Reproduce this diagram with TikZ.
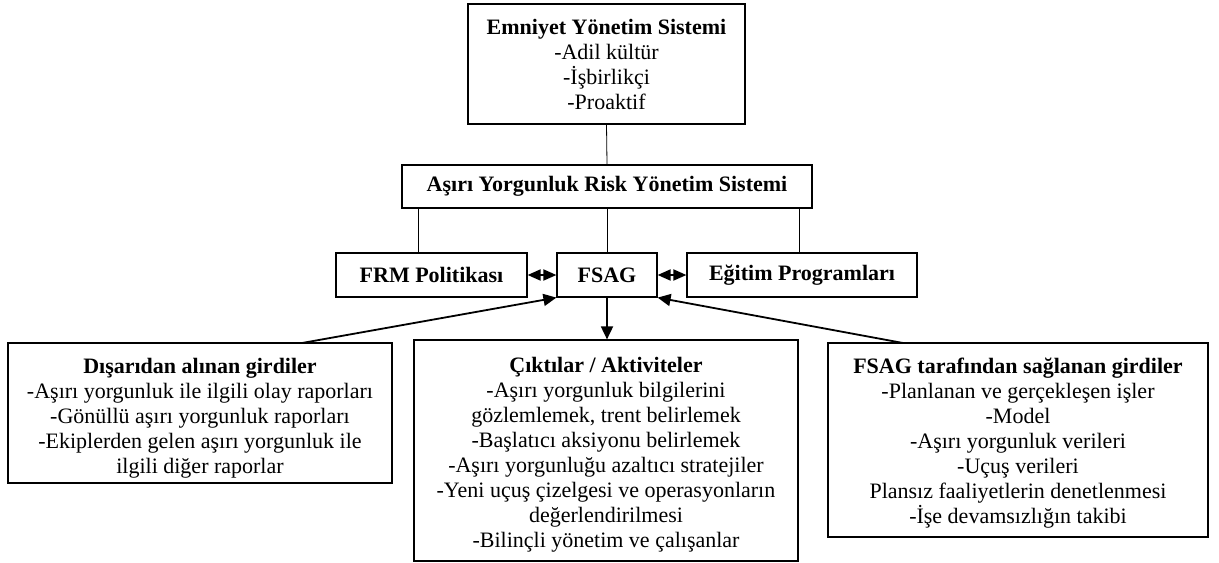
\documentclass[tikz,border=0pt]{standalone}
\usepackage{fontspec}
\setmainfont{Liberation Serif}
\usetikzlibrary{arrows.meta}
\begin{document}
\begin{tikzpicture}[x=0.5pt,y=-0.5pt,
  box/.style={draw,line width=0.6pt,inner sep=0pt,align=center,
    font=\fontsize{11}{12.5}\selectfont},
  link/.style={line width=0.4pt},
  arr/.style={line width=0.9pt,-{Triangle[length=6.5pt,width=6pt]}},
  dbl/.style={line width=0.9pt,{Triangle[length=6.5pt,width=5.5pt]}-{Triangle[length=6.5pt,width=5.5pt]}}]
\useasboundingbox (0,0) rectangle (1219,562);

\node[box,minimum width=138.5pt,minimum height=60pt] (ems) at (606.5,64)
  {\textbf{Emniyet Yönetim Sistemi}\\-Adil kültür\\-İşbirlikçi\\-Proaktif};
\node[box,minimum width=205pt,minimum height=21.5pt] (frms) at (607,186.5)
  {\textbf{Aşırı Yorgunluk Risk Yönetim Sistemi}};
\node[box,minimum width=95.5pt,minimum height=22pt] (frm) at (431.5,275)
  {\textbf{FRM Politikası}};
\node[box,minimum width=50pt,minimum height=22pt] (fsag) at (607,275)
  {\textbf{FSAG}};
\node[box,minimum width=115pt,minimum height=22pt] (egt) at (802,275)
  {\textbf{Eğitim Programları}};
\node[box,minimum width=192pt,minimum height=70pt] (dis) at (200,413)
  {\rule{0pt}{13pt}\textbf{Dışarıdan alınan girdiler}\\-Aşırı yorgunluk ile ilgili olay raporları\\-Gönüllü aşırı yorgunluk raporları\\-Ekiplerden gelen aşırı yorgunluk ile\\ilgili diğer raporlar};
\node[box,minimum width=192pt,minimum height=110.5pt] (cik) at (606,450.5)
  {\rule{0pt}{12pt}\textbf{Çıktılar / Aktiviteler}\\-Aşırı yorgunluk bilgilerini\\gözlemlemek, trent belirlemek\\-Başlatıcı aksiyonu belirlemek\\-Aşırı yorgunluğu azaltıcı stratejiler\\-Yeni uçuş çizelgesi ve operasyonların\\değerlendirilmesi\\-Bilinçli yönetim ve çalışanlar};
\node[box,minimum width=190pt,minimum height=97pt] (sag) at (1018,440)
  {\rule{0pt}{11pt}\textbf{FSAG tarafından sağlanan girdiler}\\-Planlanan ve gerçekleşen işler\\-Model\\-Aşırı yorgunluk verileri\\-Uçuş verileri\\Plansız faaliyetlerin denetlenmesi\\-İşe devamsızlığın takibi};

\coordinate (dstart) at (302,343);
\coordinate (sstart) at (903,343);

\draw[link] (ems.south) -- (frms.north);
\draw[link] (frms.south -| 418,0) -- (frm.north -| 418,0);
\draw[link] (frms.south) -- (fsag.north);
\draw[link] (frms.south -| 799,0) -- (egt.north -| 799,0);

\draw[dbl] (frm.east) -- (fsag.west);
\draw[dbl] (fsag.east) -- (egt.west);
\draw[arr] (fsag.south) -- (cik.north -| fsag.south);
\draw[arr] (dstart) -- (fsag.south west);
\draw[arr] (sstart) -- (fsag.south east);
\end{tikzpicture}
\end{document}
